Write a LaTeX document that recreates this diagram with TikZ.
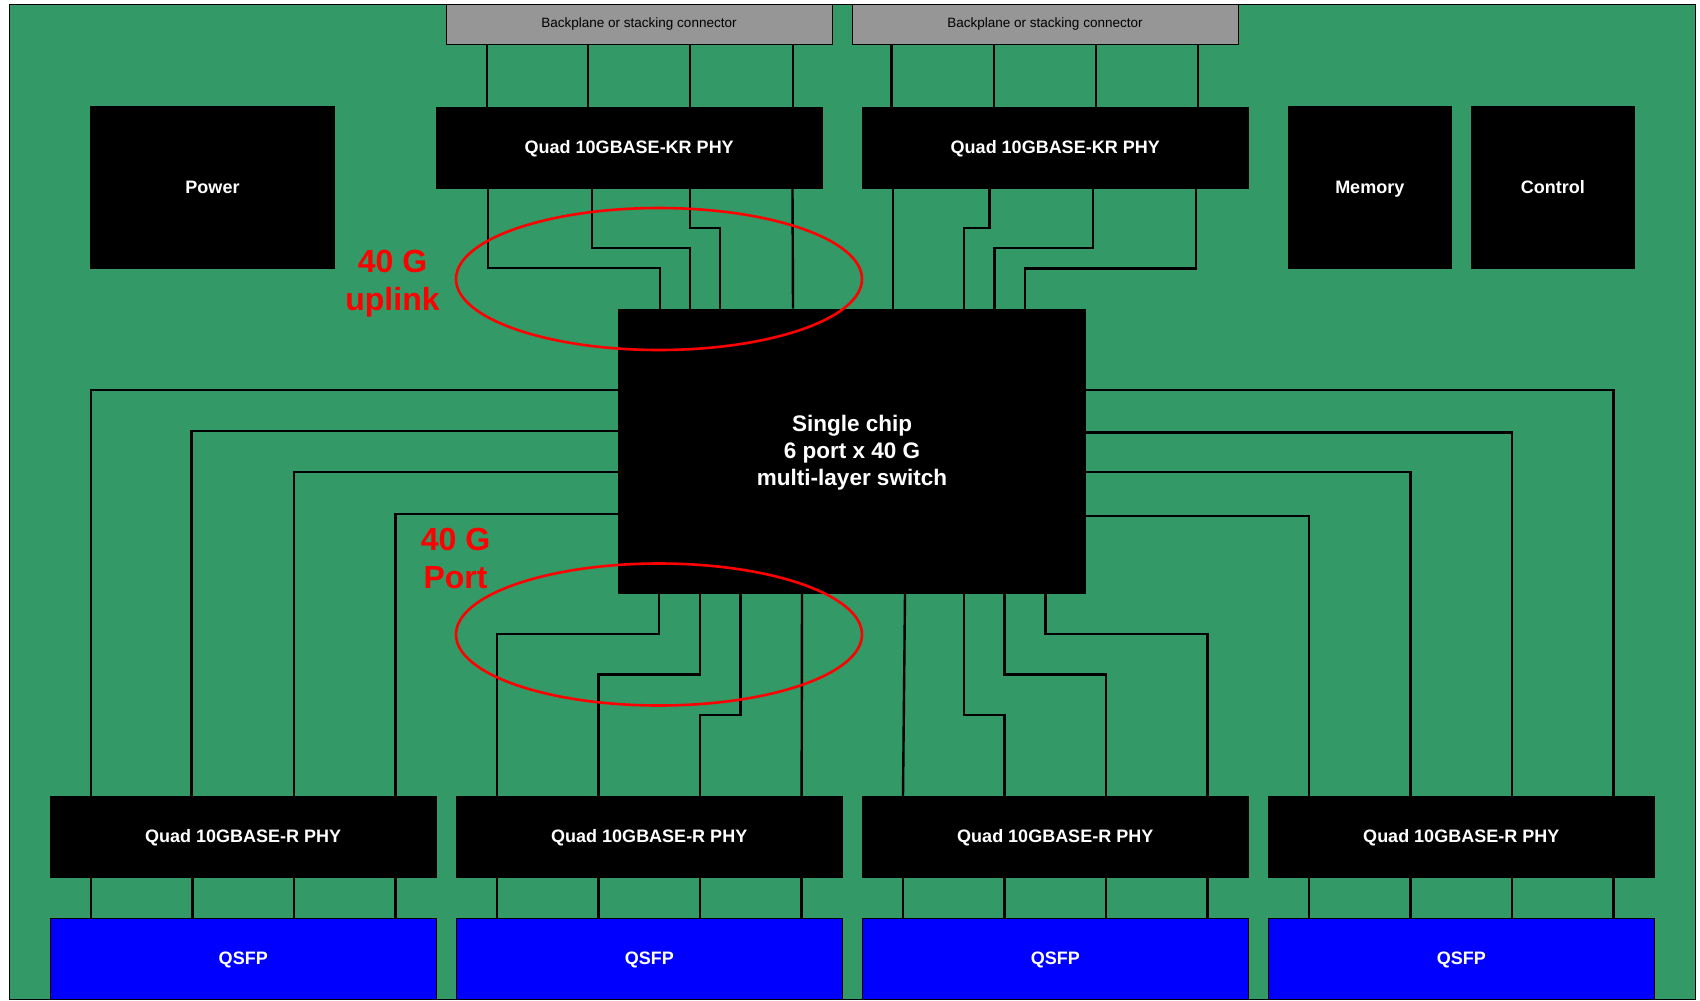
\documentclass[tikz,border=0pt]{standalone}
\usepackage{fontspec}
\setmainfont{Liberation Sans}
\usetikzlibrary{positioning, shapes.geometric}

\definecolor{boardgreen}{HTML}{339966}
\definecolor{slotgray}{HTML}{969696}

\begin{document}
\begin{tikzpicture}[
    x=1pt, y=1pt,
    node distance=19.5pt,
    box/.style={rectangle, fill=black, text=white, inner sep=0pt, outer sep=0pt, align=center, font=\fontsize{18}{21}\selectfont\bfseries},
    phy/.style={box, minimum width=386.5pt, minimum height=82pt, text height=13pt, text depth=2pt},
    block/.style={box, minimum height=163pt, text height=13pt, text depth=0pt},
    qsfp/.style={box, fill=blue, draw=black, line width=1pt, minimum width=386.5pt, minimum height=81pt, text height=13pt, text depth=2pt},
    backplane/.style={rectangle, fill=slotgray, draw=black, line width=0.6pt, inner sep=0pt, outer sep=0pt, minimum width=386pt, minimum height=40.5pt, font=\fontsize{13.5}{16}\selectfont},
    chip/.style={box, minimum width=468pt, minimum height=285pt, font=\fontsize{22.5}{27}\selectfont\bfseries},
    wire/.style={draw=black, line width=2.4pt, line join=miter},
    hoop/.style={ellipse, draw=red, line width=2.6pt, inner sep=0pt, minimum width=406pt, minimum height=142pt},
    tag/.style={text=red, align=center, font=\fontsize{32}{37.5}\selectfont\bfseries}
]
\useasboundingbox (0,0) rectangle (1700,-1001);

% Board
\node[rectangle, fill=boardgreen, draw=black, line width=0.8pt, inner sep=0pt, minimum width=1686pt, minimum height=995pt, anchor=north west] (board) at (9,-4) {};

% Top row
\node[backplane, anchor=north west] (bpa) at (446,-4) {Backplane or stacking connector};
\node[backplane, right=20pt of bpa] (bpb) {Backplane or stacking connector};
\node[phy, anchor=north west] (kra) at (436,-107) {Quad 10GBASE-KR PHY};
\node[phy, right=39.5pt of kra] (krb) {Quad 10GBASE-KR PHY};
\node[block, minimum width=245pt, anchor=north west] (power) at (90,-105.5) {Power};
\node[block, minimum width=163.5pt, anchor=north west] (memory) at (1288,-105.5) {Memory};
\node[block, minimum width=163.5pt, right=19.5pt of memory] (control) {Control};

% Switch
\node[chip, anchor=north west] (switch) at (618,-308.5) {\rule{0pt}{20.5pt}Single chip\\6 port x 40 G\\multi-layer switch};

% Bottom row
\node[phy, anchor=north west] (phya) at (50,-796) {Quad 10GBASE-R PHY};
\node[phy, right=of phya] (phyb) {Quad 10GBASE-R PHY};
\node[phy, right=of phyb] (phyc) {Quad 10GBASE-R PHY};
\node[phy, right=of phyc] (phyd) {Quad 10GBASE-R PHY};
\node[qsfp, below=40pt of phya] (qsfpa) {QSFP};
\node[qsfp, below=40pt of phyb] (qsfpb) {QSFP};
\node[qsfp, below=40pt of phyc] (qsfpc) {QSFP};
\node[qsfp, below=40pt of phyd] (qsfpd) {QSFP};

% Backplane to uplink PHY
\foreach \dx in {41,142,244,347}
    \draw[wire] ([xshift=\dx pt]bpa.south west) -- ([xshift=\dx pt]bpa.south west |- kra.north);
\foreach \dx in {39.5,142,244,346}
    \draw[wire] ([xshift=\dx pt]bpb.south west) -- ([xshift=\dx pt]bpb.south west |- krb.north);

% Uplink PHY to switch
\foreach \dx/\dy/\tx in {52/79/42, 156/59/72, 254/39/102}
    \draw[wire] ([xshift=\dx pt]kra.south west) -- ++(0,-\dy) -| ([xshift=\tx pt]switch.north west);
\draw[wire] ([xshift=356.5pt]kra.south west) -- ([xshift=175pt]switch.north west);
\draw[wire] ([xshift=31pt]krb.south west) -- ([xshift=275pt]switch.north west);
\foreach \dx/\dy/\tx in {127.5/39/346, 231/59/376.5, 334/79.5/407}
    \draw[wire] ([xshift=\dx pt]krb.south west) -- ++(0,-\dy) -| ([xshift=\tx pt]switch.north west);

% Switch sides to port PHY
\foreach \dy/\dx in {81.5/41, 122.5/141.6, 163.5/244, 205.5/345.6}
    \draw[wire] ([yshift=-\dy pt]switch.north west) -| ([xshift=\dx pt]phya.north west);
\foreach \dy/\dx in {81.5/345.6, 124/244, 163.5/142.6, 207.5/41}
    \draw[wire] ([yshift=-\dy pt]switch.north east) -| ([xshift=\dx pt]phyd.north west);

% Switch bottom to port PHY
\draw[wire] ([xshift=41pt]switch.south west) -- ++(0,-40.5) -| ([xshift=41pt]phyb.north west);
\draw[wire] ([xshift=82pt]switch.south west) -- ++(0,-81) -| ([xshift=142.6pt]phyb.north west);
\draw[wire] ([xshift=122.5pt]switch.south west) -- ++(0,-121.5) -| ([xshift=244pt]phyb.north west);
\draw[wire] ([xshift=184pt]switch.south west) -- ([xshift=345.6pt]phyb.north west);
\draw[wire] ([xshift=287pt]switch.south west) -- ([xshift=41pt]phyc.north west);
\draw[wire] ([xshift=346pt]switch.south west) -- ++(0,-121.5) -| ([xshift=142.6pt]phyc.north west);
\draw[wire] ([xshift=386.5pt]switch.south west) -- ++(0,-81) -| ([xshift=244pt]phyc.north west);
\draw[wire] ([xshift=427.5pt]switch.south west) -- ++(0,-40.5) -| ([xshift=345.6pt]phyc.north west);

% PHY to QSFP
\foreach \n in {a,b,c,d}
    \foreach \dx in {41,142.6,244,345.6}
        \draw[wire] ([xshift=\dx pt]phy\n.south west) -- ([xshift=\dx pt]qsfp\n.north west);

% Red marks
\node[hoop] (hoopup) at (659,-279) {};
\node[hoop] (hoopdown) at (659,-634.5) {};
\node[tag] (taguplink) at (392.5,-283.5) {40 G\\uplink};
\node[tag] (tagport) at (455.5,-558.5) {40 G\\Port};

\end{tikzpicture}
\end{document}
